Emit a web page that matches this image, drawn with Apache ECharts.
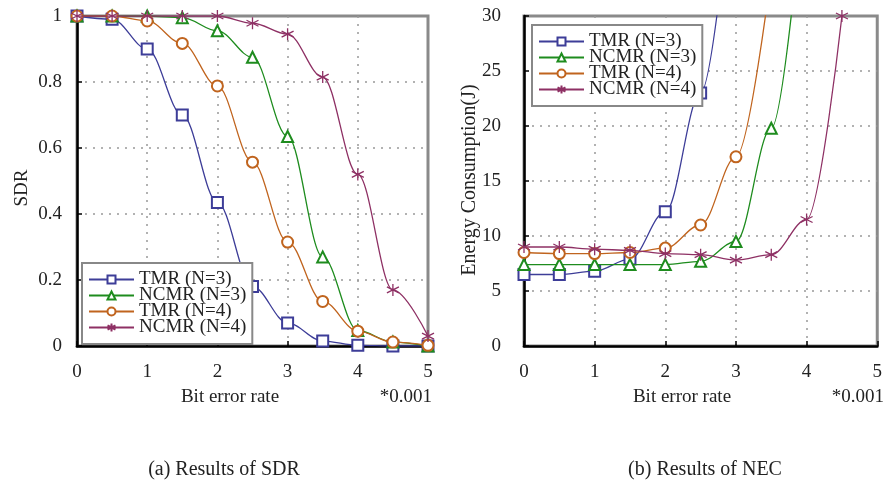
<!DOCTYPE html>
<html><head><meta charset="utf-8">
<script src="https://cdn.jsdelivr.net/npm/echarts@6/dist/echarts.min.js"></script>
<style>html,body{margin:0;padding:0;background:#fff}#c{width:885px;height:494px}</style>
</head><body><div id="c"></div>
<script>
// ---- data ----
const berX = [0, 0.5, 1, 1.5, 2, 2.5, 3, 3.5, 4, 4.5, 5];
const seriesNames = ['TMR (N=3)', 'NCMR (N=3)', 'TMR (N=4)', 'NCMR (N=4)'];
const sdrTMR3  = [1, 0.99, 0.9, 0.7, 0.435, 0.18, 0.07, 0.015, 0.002, 0, 0];
const sdrNCMR3 = [1, 1, 1, 0.995, 0.955, 0.875, 0.635, 0.27, 0.047, 0.012, 0];
const sdrTMR4  = [1, 1, 0.985, 0.917, 0.788, 0.557, 0.315, 0.135, 0.045, 0.012, 0.002];
const sdrNCMR4 = [1, 1, 1, 1, 1, 0.978, 0.945, 0.815, 0.52, 0.17, 0.03];
const necTMR3  = [6.5, 6.5, 6.8, 7.9, 12.2, 23, 46];
const necNCMR3 = [7.4, 7.4, 7.4, 7.4, 7.4, 7.7, 9.5, 19.8, 44];
const necTMR4  = [8.5, 8.4, 8.4, 8.5, 8.9, 11, 17.2, 34];
const necNCMR4 = [9, 9, 8.8, 8.7, 8.4, 8.3, 7.8, 8.3, 11.5, 30];
const xTicks = [0, 1, 2, 3, 4, 5];
const sdrTicks = [0, 0.2, 0.4, 0.6, 0.8, 1];
const necTicks = [0, 5, 10, 15, 20, 25, 30];

// ---- styles ----
const FONT = "'Liberation Serif', 'Times New Roman', serif";
const colors = ['#3d3d98', '#1e8c1e', '#c0641e', '#8e3064'];
const STAR = 'path://M0,-10L0,10M-8.66,-5L8.66,5M-8.66,5L8.66,-5';
const symbols = ['emptyRect', 'emptyTriangle', 'emptyCircle', STAR];
const symSizes = [11, 11, 11, 12];

function pairs(vals) { return vals.map((v, i) => [berX[i], v]); }

function mkSeries(vals, k, gi) {
  return {
    type: 'line', name: seriesNames[k], xAxisIndex: gi, yAxisIndex: gi,
    data: pairs(vals), smooth: 0.35, smoothMonotone: 'x', clip: true,
    symbol: symbols[k], symbolSize: symSizes[k], showAllSymbol: true,
    lineStyle: { color: colors[k], width: 1.3 },
    itemStyle: { color: colors[k], borderColor: colors[k], borderWidth: 1.3 },
    emphasis: { disabled: true }, z: 3 + k
  };
}

function xAxis(gi) {
  return {
    type: 'value', gridIndex: gi, min: xTicks[0], max: xTicks[xTicks.length - 1], interval: 1,
    axisLine: { onZero: false, lineStyle: { color: '#000', width: 2.5 } },
    axisTick: { inside: true, length: 5, lineStyle: { color: '#000', width: 1.5 } },
    axisLabel: { fontFamily: FONT, fontSize: 19, color: '#222', margin: 17 },
    splitLine: { show: true, showMinLine: false, showMaxLine: false,
      lineStyle: { color: '#999', type: [2, 6], width: 1.5 } }
  };
}
function yAxis(gi, ticks, margin) {
  return {
    type: 'value', gridIndex: gi, min: ticks[0], max: ticks[ticks.length - 1],
    interval: ticks[1] - ticks[0],
    axisLine: { onZero: false, lineStyle: { color: '#000', width: 2.5 } },
    axisTick: { inside: true, length: 5, lineStyle: { color: '#000', width: 1.5 } },
    axisLabel: { fontFamily: FONT, fontSize: 19, color: '#222', margin: margin },
    splitLine: { show: true, showMinLine: false, showMaxLine: false,
      lineStyle: { color: '#999', type: [2, 6], width: 1.5 } }
  };
}
function legend(left, top) {
  return {
    orient: 'vertical', left: left, top: top, data: seriesNames,
    itemWidth: 45, itemHeight: 10, itemGap: -3, padding: [7, 6, 7, 6],
    backgroundColor: '#fff', borderColor: '#888', borderWidth: 2, borderRadius: 0,
    selectedMode: false,
    textStyle: { fontFamily: FONT, fontSize: 19, lineHeight: 16, color: '#222' }
  };
}
function txt(x, y, text, opt) {
  return Object.assign({
    type: 'text', x: x, y: y, silent: true,
    style: Object.assign({ text: text, fontFamily: FONT, fontSize: 19, fill: '#222',
      align: 'center', verticalAlign: 'middle' }, opt && opt.style)
  }, opt && opt.el);
}

const chart = echarts.init(document.getElementById('c'), null, { renderer: 'canvas' });
chart.setOption({
  animation: false,
  backgroundColor: '#fff',
  grid: [
    { left: 77, top: 16, width: 351, height: 330, show: true, borderColor: '#8a8a8a', borderWidth: 3, backgroundColor: '#fff' },
    { left: 524, top: 16, width: 356, height: 330, show: true, borderColor: '#8a8a8a', borderWidth: 3, backgroundColor: '#fff' }
  ],
  xAxis: [xAxis(0), xAxis(1)],
  yAxis: [yAxis(0, sdrTicks, 15), yAxis(1, necTicks, 23)],
  legend: [legend(82, 263), legend(532, 25)],
  series: [
    mkSeries(sdrTMR3, 0, 0), mkSeries(sdrNCMR3, 1, 0), mkSeries(sdrTMR4, 2, 0), mkSeries(sdrNCMR4, 3, 0),
    mkSeries(necTMR3, 0, 1), mkSeries(necNCMR3, 1, 1), mkSeries(necTMR4, 2, 1), mkSeries(necNCMR4, 3, 1)
  ],
  graphic: [
    txt(22, 188, 'SDR', { el: { rotation: Math.PI / 2 } }),
    txt(470, 180, 'Energy Consumption(J)', { el: { rotation: Math.PI / 2 }, style: { fontSize: 20 } }),
    txt(230, 397, 'Bit error rate'),
    txt(682, 397, 'Bit error rate'),
    txt(432, 397, '*0.001', { style: { align: 'right' } }),
    txt(884, 397, '*0.001', { style: { align: 'right' } }),
    txt(224, 470, '(a) Results of SDR', { style: { fontSize: 20 } }),
    txt(705, 470, '(b) Results of NEC', { style: { fontSize: 20 } })
  ]
});
</script></body></html>
